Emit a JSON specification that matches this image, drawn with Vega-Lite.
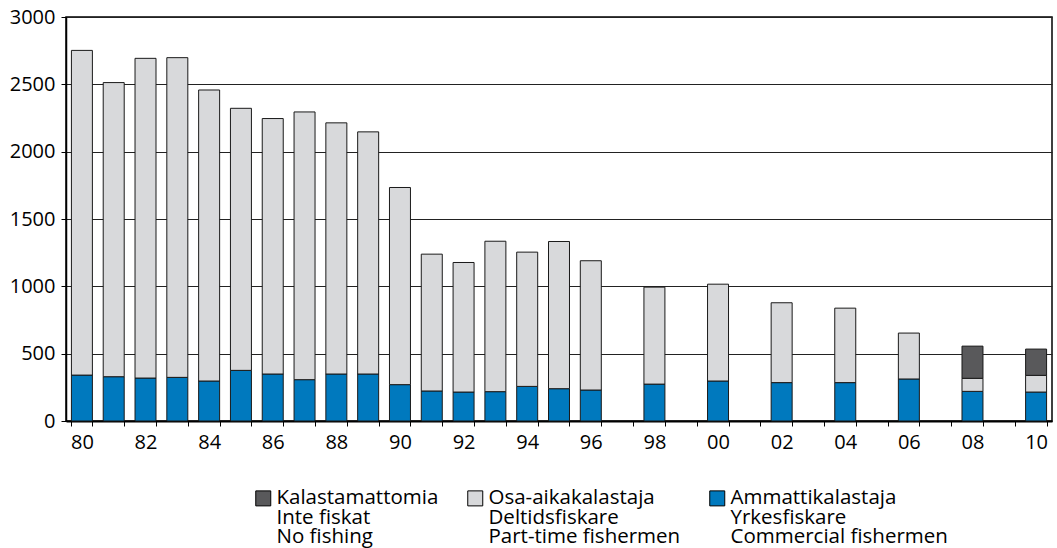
{
  "$schema": "https://vega.github.io/schema/vega-lite/v6.json",
  "width": 986,
  "height": 404,
  "autosize": {"type": "none"},
  "padding": {"left": 66, "top": 17, "right": 5, "bottom": 127},
  "background": "white",
  "config": {
    "font": "Open Sans",
    "view": {"stroke": "black", "strokeWidth": 1.5},
    "axis": {"labelFont": "Open Sans", "labelFontSize": 20, "labelColor": "black", "tickColor": "black", "domainColor": "black", "tickWidth": 1},
    "style": {"guide-label": {"lineHeight": 19.5}}
  },
  "data": {
    "values": [
      {"yr": "80", "s1": 341, "s2": 2411},
      {"yr": "81", "s1": 329, "s2": 2184},
      {"yr": "82", "s1": 319, "s2": 2374},
      {"yr": "83", "s1": 324, "s2": 2374},
      {"yr": "84", "s1": 297, "s2": 2161},
      {"yr": "85", "s1": 376, "s2": 1946},
      {"yr": "86", "s1": 349, "s2": 1897},
      {"yr": "87", "s1": 307, "s2": 1988},
      {"yr": "88", "s1": 349, "s2": 1865},
      {"yr": "89", "s1": 349, "s2": 1798},
      {"yr": "90", "s1": 270, "s2": 1464},
      {"yr": "91", "s1": 223, "s2": 1016},
      {"yr": "92", "s1": 215, "s2": 962},
      {"yr": "93", "s1": 218, "s2": 1117},
      {"yr": "94", "s1": 257, "s2": 997},
      {"yr": "95", "s1": 240, "s2": 1093},
      {"yr": "96", "s1": 230, "s2": 960},
      {"yr": "98", "s1": 274, "s2": 720},
      {"yr": "00", "s1": 297, "s2": 719},
      {"yr": "02", "s1": 285, "s2": 593},
      {"yr": "04", "s1": 285, "s2": 553},
      {"yr": "06", "s1": 312, "s2": 341},
      {"yr": "08", "s1": 220, "s2": 97, "s3": 239},
      {"yr": "10", "s1": 215, "s2": 124, "s3": 195}
    ]
  },
  "transform": [
    {"fold": ["s1", "s2", "s3"], "as": ["series", "n"]},
    {"filter": "isValid(datum.n)"}
  ],
  "mark": {"type": "bar", "stroke": "#1a1a1a", "strokeWidth": 1, "opacity": 1},
  "encoding": {
    "x": {
      "field": "yr",
      "type": "ordinal",
      "scale": {
        "domain": ["80","81","82","83","84","85","86","87","88","89","90","91","92","93","94","95","96","97","98","99","00","01","02","03","04","05","06","07","08","09","10"],
        "paddingInner": 0.34,
        "paddingOuter": 0.17
      },
      "axis": {
        "title": null,
        "labelAngle": 0,
        "tickBand": "extent",
        "tickSize": 5,
        "labelPadding": 6,
        "domainWidth": 2,
        "labelExpr": "toNumber(datum.value) % 2 == 0 ? datum.value : ''"
      }
    },
    "y": {
      "field": "n",
      "type": "quantitative",
      "stack": "zero",
      "scale": {"domain": [0, 3000], "nice": false},
      "axis": {
        "title": null,
        "format": "d",
        "values": [0, 500, 1000, 1500, 2000, 2500, 3000],
        "grid": true,
        "gridColor": "#222222",
        "gridWidth": 1,
        "tickSize": 5,
        "labelPadding": 6,
        "domainWidth": 1.5
      }
    },
    "color": {
      "field": "series",
      "type": "nominal",
      "scale": {"domain": ["s3", "s2", "s1"], "range": ["#59595B", "#D8D9DB", "#0079BE"]},
      "legend": {
        "title": null,
        "orient": "none",
        "legendX": 187,
        "legendY": 471,
        "direction": "horizontal",
        "padding": 0,
        "symbolType": "square",
        "symbolSize": 225,
        "symbolStrokeColor": "black",
        "symbolStrokeWidth": 1,
        "symbolOpacity": 1,
        "labelFont": "Open Sans",
        "labelFontSize": 20.5,
        "labelColor": "black",
        "labelOffset": 3,
        "labelLimit": 0,
        "labelBaseline": "top",
        "columnPadding": 26,
        "labelExpr": "datum.value == 's3' ? ['Kalastamattomia', 'Inte fiskat', 'No fishing'] : datum.value == 's2' ? ['Osa-aikakalastaja', 'Deltidsfiskare', 'Part-time fishermen'] : ['Ammattikalastaja', 'Yrkesfiskare', 'Commercial fishermen']",
        "encoding": {
          "labels": {"dy": {"value": -10}, "lineHeight": {"value": 19.5}}
        }
      }
    },
    "order": {"field": "series", "sort": "ascending"}
  }
}
